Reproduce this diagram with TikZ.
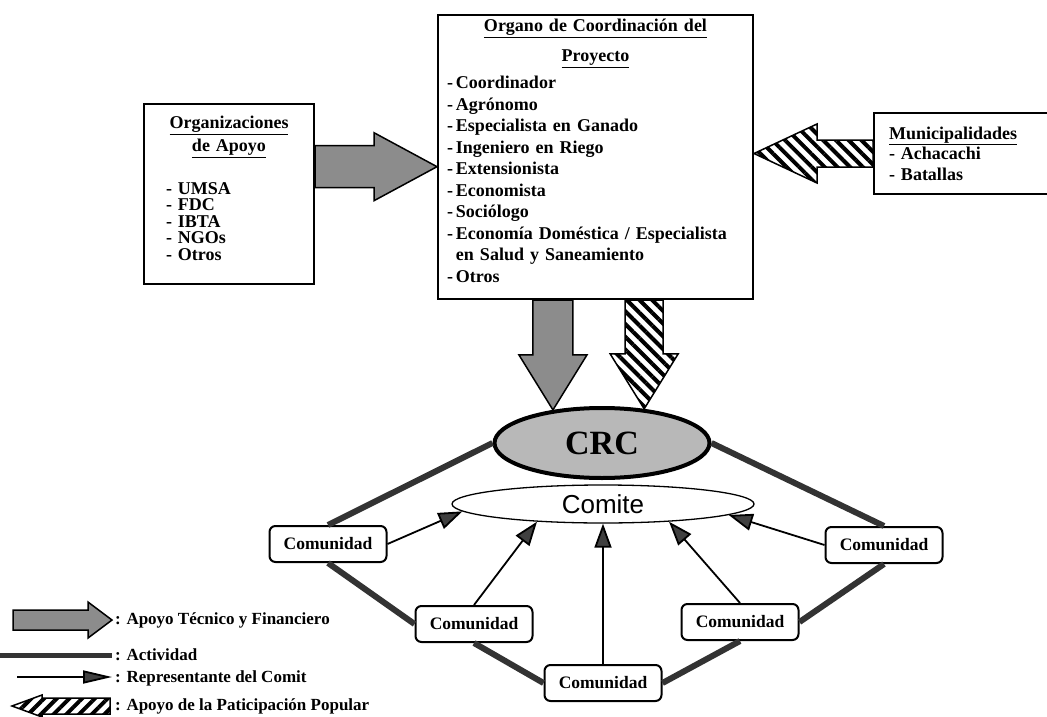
\documentclass[tikz,border=0pt]{standalone}
\usepackage{fontspec}
\setmainfont{Liberation Serif}
\newfontfamily\comitefont{Liberation Sans}
\usetikzlibrary{calc,arrows.meta,patterns.meta,shapes.geometric}

% wide block arrow: style, tail, tip, half shaft, half head, head length
\newcommand{\fatarrow}[6]{%
  \coordinate (fa-base) at ($(#3)!#6!(#2)$);
  \path[#1] ($(#2)!#4!90:(#3)$) -- ($(fa-base)!#4!90:(#3)$) -- ($(fa-base)!#5!90:(#3)$)
    -- (#3) -- ($(fa-base)!#5!-90:(#3)$) -- ($(fa-base)!#4!-90:(#3)$) -- ($(#2)!#4!-90:(#3)$) -- cycle;}

\tikzset{
  box/.style={draw, line width=2pt, inner ysep=0pt, align=left, font=\bfseries\fontsize{18}{21.5}\selectfont},
  boxtext/.style={anchor=north, inner sep=0pt, align=left, font=\bfseries\fontsize{18}{21.5}\selectfont},
  comunidad/.style={draw, rounded corners=6pt, line width=2pt, minimum width=117pt, minimum height=36pt, inner sep=0pt, font=\bfseries\fontsize{17.5}{20}\selectfont},
  tecnico/.style={draw, line width=1.5pt, fill=black!45, line join=miter},
  popular/.style={draw, line width=1.5pt, line join=miter, pattern={Lines[angle=-45,distance=9pt,line width=4pt]}},
  actividad/.style={draw=black!80, line width=6pt},
  representante/.style={draw, line width=1.8pt, -{Triangle[length=24pt,width=17pt,fill=black!75]}},
  leyenda/.style={anchor=west, inner sep=0pt, font=\bfseries\fontsize{17}{20}\selectfont}
}

\begin{document}
\begin{tikzpicture}[x=1pt, y=-1pt]
    \useasboundingbox (0,0) rectangle (1047,717);

    % Project coordination body
    \node[box, anchor=north west, minimum width=315pt, minimum height=284pt, text width=297pt, inner xsep=9pt] (organo) at (437,14) {%
      {\centering\underline{Organo de Coordinación del}\\[8.5pt]\underline{Proyecto}\par}\vspace{5.5pt}%
      -\,Coordinador\\ -\,Agrónomo\\ -\,Especialista en Ganado\\ -\,Ingeniero en Riego\\ -\,Extensionista\\
      -\,Economista\\ -\,Sociólogo\\ -\,Economía Doméstica / Especialista\\ \hphantom{-\,}en Salud y Saneamiento\\
      -\,Otros\vspace{12pt}};

    % Supporting organizations and municipalities
    \node[box, anchor=north west, minimum width=170pt, minimum height=180pt] (orgs) at (143,103) {};
    \node[boxtext, text width=150pt] (orgstxt) at ($(orgs.north)+(0,13)$) {%
      {\centering\underline{Organizaciones}\\[1.5pt]\underline{de Apoyo}\par}\vspace{24pt}%
      {\fontsize{18}{16.5}\selectfont\hspace*{12pt}- UMSA\\ \hspace*{12pt}- FDC\\ \hspace*{12pt}- IBTA\\ \hspace*{12pt}- NGOs\\ \hspace*{12pt}- Otros\par}};
    \node[box, anchor=north west, minimum width=190pt, minimum height=81pt, text width=160pt, inner xsep=15pt, font=\bfseries\fontsize{18}{20.5}\selectfont] (muni) at (873,112) {%
      \underline{Municipalidades}\\- Achacachi\\- Batallas};

    % CRC and committee
    \node[draw, ellipse, line width=4pt, fill=black!28, minimum width=215pt, minimum height=70pt, inner sep=0pt, font=\bfseries\fontsize{34}{34}\selectfont] (crc) at (602,443) {CRC};
    \node[draw, ellipse, line width=1.3pt, fill=white, minimum width=302pt, minimum height=38pt, inner sep=0pt, font=\comitefont\fontsize{26}{26}\selectfont] (comite) at (603,504) {Comite};

    % Communities
    \node[comunidad] (cl1) at (328,544) {Comunidad};
    \node[comunidad] (cl2) at (474,624) {Comunidad};
    \node[comunidad] (cb) at (603,683) {Comunidad};
    \node[comunidad] (cr2) at (740,622) {Comunidad};
    \node[comunidad] (cr1) at (884,545) {Comunidad};

    % Support arrows into the coordination body
    \coordinate (a1) at ($(orgs.north east)!0.35!(orgs.south east)$);
    \coordinate (a1tip) at (organo.west |- a1);
    \fatarrow{tecnico}{a1}{a1tip}{21pt}{34pt}{63pt}
    \coordinate (a2tip) at (organo.east |- muni.west);
    \fatarrow{popular}{muni.west}{a2tip}{13.5pt}{29.5pt}{63pt}

    % Arrows down to the CRC
    \coordinate (d1) at (crc.146 |- organo.south);
    \fatarrow{tecnico}{d1}{crc.146}{20pt}{34pt}{55pt}
    \coordinate (d2) at (crc.39 |- organo.south);
    \fatarrow{popular}{d2}{crc.39}{19pt}{34pt}{55pt}

    % Activity ring
    \draw[actividad] (crc.west) -- (cl1.north);
    \draw[actividad] (cl1.south) -- (cl2.west);
    \draw[actividad] (cl2.south) -- (cb.west);
    \draw[actividad] (cb.east) -- (cr2.south);
    \draw[actividad] (cr2.east) -- (cr1.south);
    \draw[actividad] (cr1.north) -- (crc.east);

    % Committee representatives
    \draw[representante] (cl1.east) -- (comite.183);
    \draw[representante] (cl2.north) -- (comite.195);
    \draw[representante] (cb.north) -- (comite.south);
    \draw[representante] (cr2.north) -- (comite.-15);
    \draw[representante] (cr1.west) -- (comite.-5);

    % Legend
    \node[leyenda] (lg1) at (115,620) {: Apoyo Técnico y Financiero};
    \node[leyenda] (lg2) at (115,655) {: Actividad};
    \node[leyenda] (lg3) at (115,678) {: Representante del Comit};
    \node[leyenda] (lg4) at (115,706) {: Apoyo de la Paticipación Popular};
    \coordinate (lt1) at (13,620);
    \coordinate (lh1) at (112,620);
    \fatarrow{tecnico}{lt1}{lh1}{10pt}{18pt}{24pt}
    \coordinate (lt2) at (0,655);
    \coordinate (lh2) at (112,655);
    \draw[actividad, line width=5pt] (lt2) -- (lh2);
    \coordinate (lt3) at (17,677);
    \coordinate (lh3) at (112,677);
    \draw[representante, -{Triangle[length=29pt,width=13pt,fill=black!75]}] (lt3) -- (lh3);
    \coordinate (lt4) at (110,706);
    \coordinate (lh4) at (12,706);
    \fatarrow{popular, pattern={Lines[angle=45,distance=9pt,line width=4pt]}}{lt4}{lh4}{8pt}{11pt}{30pt}
\end{tikzpicture}
\end{document}
